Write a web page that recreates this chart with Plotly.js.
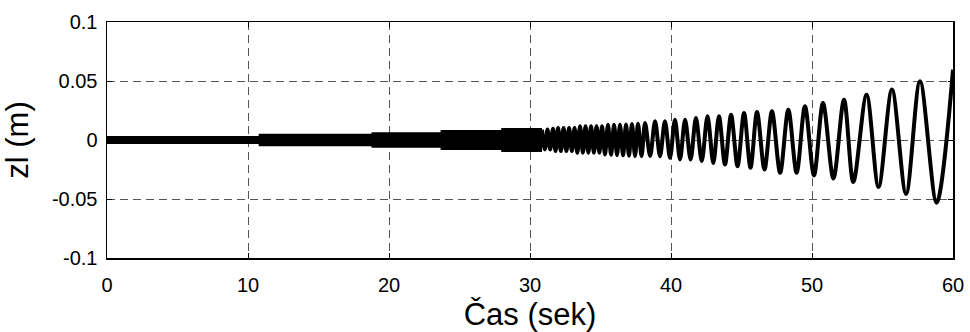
<!DOCTYPE html>
<html>
<head>
<meta charset="utf-8">
<script src="https://cdn.plot.ly/plotly-3.0.1.min.js"></script>
<style>html,body{margin:0;padding:0;background:#fff;}#chart{width:970px;height:332px;}</style>
</head>
<body>
<div id="chart"></div>
<script>
// Dense (unresolved) part of the signal: envelope of the solid band, 0 .. 30.85 s
const bandT    = [0, 10.9, 18.9, 23.8, 28.1, 30.85];
const bandHigh = [0.0018, 0.0036, 0.0048, 0.0068, 0.0085, 0.0085];
const bandLow  = [-0.0018, -0.0036, -0.0048, -0.0068, -0.0085, -0.0085];

// Resolved oscillation: successive peaks and troughs
const oscT = [30.85, 31.05, 31.24, 31.43, 31.63, 31.81, 31.99, 32.19, 32.38, 32.58,
              32.77, 32.97, 33.16, 33.36, 33.55, 33.75, 33.94, 34.14, 34.33, 34.53,
              34.72, 34.92, 35.11, 35.32, 35.53, 35.75, 35.96, 36.17, 36.38, 36.60,
              36.81, 37.02, 37.23, 37.45, 37.66, 37.91, 38.16, 38.52, 38.87, 39.22,
              39.57, 39.93, 40.28, 40.64, 41.00, 41.39, 41.77, 42.18, 42.59, 43.00,
              43.40, 43.83, 44.26, 44.72, 45.18, 45.64, 46.10, 46.63, 47.16, 47.74,
              48.32, 48.91, 49.50, 50.14, 50.78, 51.52, 52.27, 52.93, 53.87, 54.72,
              55.67, 56.67, 57.66, 58.84, 60.00];
const oscZ = [0.0088, -0.0080, 0.0088, -0.0080, 0.0095, -0.0094, 0.0102, -0.0094, 0.0102, -0.0094,
              0.0102, -0.0094, 0.0102, -0.0108, 0.0117, -0.0108, 0.0117, -0.0108, 0.0117, -0.0108,
              0.0117, -0.0108, 0.0117, -0.0123, 0.0130, -0.0125, 0.0130, -0.0128, 0.0130, -0.0130,
              0.0132, -0.0133, 0.0135, -0.0135, 0.0138, -0.0137, 0.0144, -0.0135, 0.0159, -0.0137,
              0.0159, -0.0151, 0.0172, -0.0165, 0.0172, -0.0165, 0.0187, -0.0179, 0.0201, -0.0194,
              0.0201, -0.0208, 0.0215, -0.0222, 0.0229, -0.0236, 0.0238, -0.0250, 0.0244, -0.0278,
              0.0257, -0.0278, 0.0286, -0.0300, 0.0314, -0.0326, 0.0342, -0.0356, 0.0384, -0.0398,
              0.0427, -0.0457, 0.0498, -0.0532, 0.0595];

const xTickVals = [0, 10, 20, 30, 40, 50, 60];
const xTickText = ['0', '10', '20', '30', '40', '50', '60'];
const yTickVals = [-0.1, -0.05, 0, 0.05, 0.1];
const yTickText = ['-0.1', '-0.05', '0', '0.05', '0.1'];

const FONT = 'Liberation Sans, Arial, Helvetica, sans-serif';
const LW = 4;

const traces = [
  {x: bandT, y: bandHigh, mode: 'lines', line: {color: '#000', width: LW, shape: 'hv'},
   hoverinfo: 'skip', showlegend: false},
  {x: bandT, y: bandLow, mode: 'lines', line: {color: '#000', width: LW, shape: 'hv'},
   fill: 'tonexty', fillcolor: '#000', hoverinfo: 'skip', showlegend: false},
  {x: oscT, y: oscZ, mode: 'lines', line: {color: '#000', width: LW, shape: 'spline', smoothing: 0.9},
   showlegend: false}
];

const axisCommon = {
  showline: true, linecolor: '#000', linewidth: 1.5, mirror: 'ticks',
  ticks: 'inside', ticklen: 5, tickwidth: 1, tickcolor: '#000',
  showgrid: true, gridcolor: '#555', gridwidth: 1, griddash: '8px,5px',
  zeroline: false, automargin: false,
  tickfont: {family: FONT, size: 20, color: '#000'}
};

const layout = {
  width: 970, height: 332,
  margin: {l: 107, r: 17, t: 22, b: 74, pad: 0},
  paper_bgcolor: '#fff', plot_bgcolor: '#fff',
  font: {family: FONT, color: '#000'},
  showlegend: false,
  xaxis: Object.assign({}, axisCommon, {
    range: [0, 60], tickmode: 'array', tickvals: xTickVals, ticktext: xTickText,
    ticklabelstandoff: 8,
    title: {text: 'Čas (sek)', font: {family: FONT, size: 31, color: '#000'}, standoff: 14}
  }),
  yaxis: Object.assign({}, axisCommon, {
    range: [-0.1, 0.1], tickmode: 'array', tickvals: yTickVals, ticktext: yTickText,
    ticklabelstandoff: 4,
    title: {text: 'zl (m)', font: {family: FONT, size: 31, color: '#000'}, standoff: 14}
  })
};

Plotly.newPlot('chart', traces, layout, {staticPlot: true, displayModeBar: false});
</script>
</body>
</html>
